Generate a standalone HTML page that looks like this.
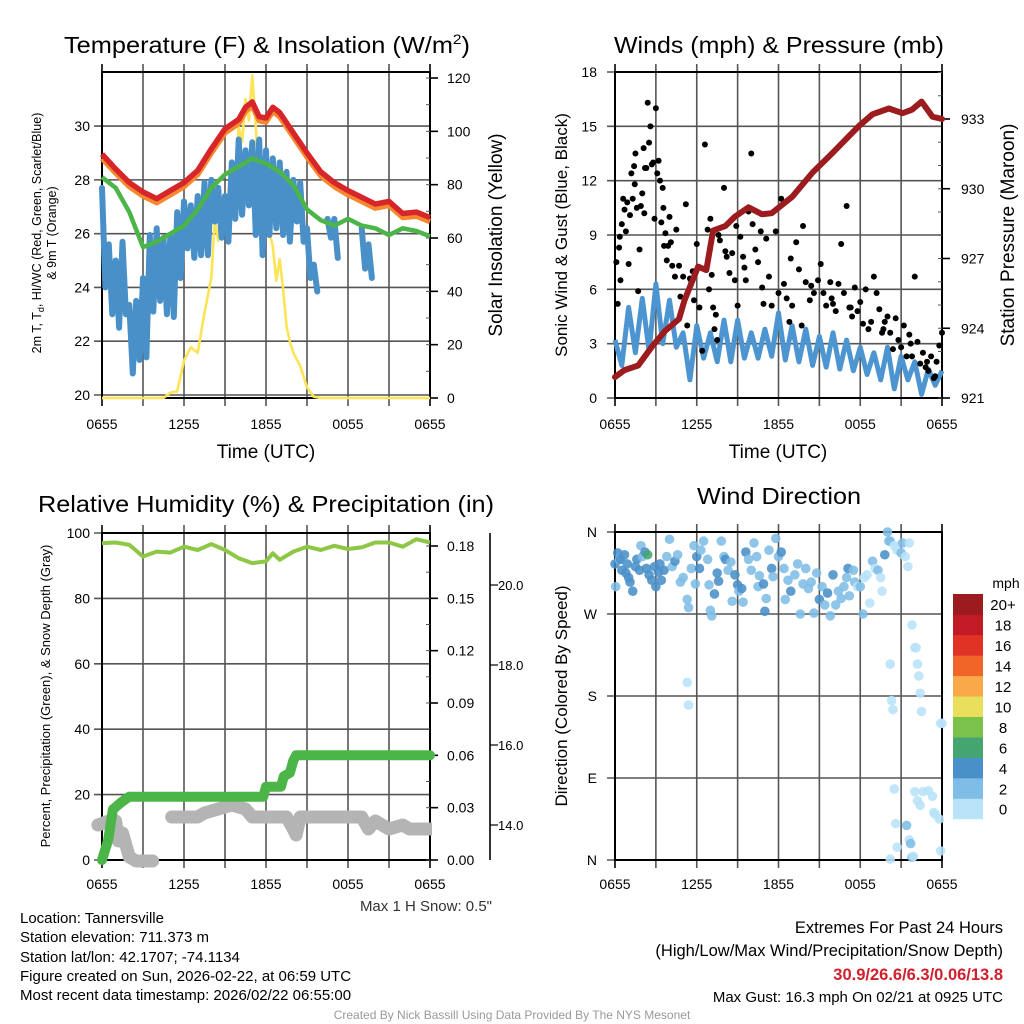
<!DOCTYPE html>
<html><head><meta charset="utf-8"><style>
html,body{margin:0;padding:0;background:#fff;}
svg{display:block;font-family:"Liberation Sans",sans-serif;}
</style></head><body>
<svg id="chart" width="1024" height="1024" viewBox="0 0 1024 1024" xmlns="http://www.w3.org/2000/svg">
<rect width="1024" height="1024" fill="#fff"/>
<text x="267" y="53" font-size="23" text-anchor="middle" textLength="406" lengthAdjust="spacingAndGlyphs">Temperature (F) &amp; Insolation (W/m<tspan font-size="14" dy="-9">2</tspan><tspan dy="9">)</tspan></text>
<text x="779" y="53" font-size="23" text-anchor="middle" textLength="330" lengthAdjust="spacingAndGlyphs">Winds (mph) &amp; Pressure (mb)</text>
<text x="266" y="512" font-size="23" text-anchor="middle" textLength="456" lengthAdjust="spacingAndGlyphs">Relative Humidity (%) &amp; Precipitation (in)</text>
<text x="779" y="504" font-size="23" text-anchor="middle" textLength="164" lengthAdjust="spacingAndGlyphs">Wind Direction</text>
<g id="layer"></g>
<text transform="translate(41,233) rotate(-90)" font-size="12.5" text-anchor="middle">2m T, T<tspan font-size="9" dy="3">d</tspan><tspan dy="-3">, HI/WC (Red, Green, Scarlet/Blue)</tspan></text>
<text transform="translate(56,233) rotate(-90)" font-size="12.5" text-anchor="middle">&amp; 9m T (Orange)</text>
<text transform="translate(502,235) rotate(-90)" font-size="19" text-anchor="middle">Solar Insolation (Yellow)</text>
<text transform="translate(567,235) rotate(-90)" font-size="17" text-anchor="middle">Sonic Wind &amp; Gust (Blue, Black)</text>
<text transform="translate(1014,235) rotate(-90)" font-size="19" text-anchor="middle">Station Pressure (Maroon)</text>
<text transform="translate(50,696) rotate(-90)" font-size="13" text-anchor="middle">Percent, Precipitation (Green), &amp; Snow Depth (Gray)</text>
<text transform="translate(567,696) rotate(-90)" font-size="17" text-anchor="middle">Direction (Colored By Speed)</text>
<text x="266" y="458" font-size="19" text-anchor="middle">Time (UTC)</text>
<text x="778" y="458" font-size="19" text-anchor="middle">Time (UTC)</text>
<text x="492" y="911" font-size="15" fill="#333" text-anchor="end">Max 1 H Snow: 0.5"</text>
<g font-size="15">
<text x="20" y="923">Location: Tannersville</text>
<text x="20" y="942">Station elevation: 711.373 m</text>
<text x="20" y="962">Station lat/lon: 42.1707; -74.1134</text>
<text x="20" y="981">Figure created on Sun, 2026-02-22, at 06:59 UTC</text>
<text x="20" y="1000">Most recent data timestamp: 2026/02/22 06:55:00</text>
</g>
<g text-anchor="end">
<text x="1003" y="933" font-size="16.5">Extremes For Past 24 Hours</text>
<text x="1003" y="956" font-size="16.5">(High/Low/Max Wind/Precipitation/Snow Depth)</text>
<text x="1003" y="980" font-size="16.5" font-weight="bold" fill="#d0202e">30.9/26.6/6.3/0.06/13.8</text>
<text x="1003" y="1002" font-size="15">Max Gust: 16.3 mph On 02/21 at 0925 UTC</text>
</g>
<text x="512" y="1019" font-size="12" fill="#999" text-anchor="middle">Created By Nick Bassill Using Data Provided By The NYS Mesonet</text>
</svg>
<script>
// ---- data ----
const xTickLabels = ["0655","1255","1855","0055","0655"];
const xTickHours = [0,6,12,18,24];
const tempTicks = [20,22,24,26,28,30];
const solarTicks = [0,20,40,60,80,100,120];
const windTicks = [0,3,6,9,12,15,18];
const pressTicks = [921,924,927,930,933];
const rhTicks = [0,20,40,60,80,100];
const precipTicks = [0,0.03,0.06,0.09,0.12,0.15,0.18];
const precipTickLabels = ["0.00","0.03","0.06","0.09","0.12","0.15","0.18"];
const snowTicks = [14,16,18,20];
const snowTickLabels = ["14.0","16.0","18.0","20.0"];
const dirTicks = [0,90,180,270,360];
const dirTickLabels = ["N","E","S","W","N"];
const speedBins = ["0","2","4","6","8","10","12","14","16","18","20+"];
const speedColors = ["#b8e3f8","#80bde6","#4a90c8","#45a570","#7bc24c","#e8e05a","#f9a84a","#f26529","#e03326","#c11b25","#9b1b1f"];

const hiwcHours = [0,1,2,3,4,5,6,7,8,9,10,10.5,11,11.5,12,12.5,13,14,15,16,17,18,19,20,21,22,23,24];
const hiwcVals = [28.96,28.4,27.9,27.55,27.3,27.6,27.9,28.35,29.15,29.9,30.25,30.7,30.9,30.35,30.3,30.7,30.5,29.75,29.0,28.3,27.9,27.6,27.35,27.1,27.2,26.75,26.8,26.6];
const nineMVals = [28.8,28.25,27.75,27.4,27.15,27.45,27.75,28.2,29.0,29.75,30.1,30.55,30.75,30.2,30.15,30.55,30.35,29.6,28.85,28.15,27.75,27.45,27.2,26.95,27.05,26.6,26.65,26.45];
const nine2Hours = [0,1,2,3,4,5,6,7,8,9,10,11,12,13,14,15,16,17,18,19,20,21,22,23,24];
const greenVals = [28.1,27.7,26.8,25.5,25.7,26.0,26.3,26.9,27.7,28.2,28.5,28.8,28.6,28.3,27.8,26.9,26.5,26.3,26.55,26.3,26.2,25.95,26.2,26.1,25.9];
const dewStep = 0.25;
const dewVals = [27.7,24.0,25.6,23.0,25.0,22.5,25.7,23.0,23.35,20.8,23.5,21.3,24.35,21.4,25.95,23.1,26.2,23.5,25.85,23.0,25.95,22.9,26.8,24.35,27.2,25.45,27.05,25.1,27.4,25.2,27.9,25.2,28.0,26.45,27.7,25.85,27.4,25.7,28.65,26.55,29.5,26.7,29.1,27.05,29.4,25.95,29.5,25.2,29.1,25.95,28.8,26.2,28.65,25.95,28.3,25.7,28.0,26.45,27.9,25.7,26.2,24.35,24.85,23.85,null,null,26.55,25.85,26.55,25.1,null,null,null,null,null,null,26.2,24.7,25.6,24.35];
const solarHours = [0,4.5,5,5.5,6,6.5,7,7.5,8,8.25,8.5,8.75,9,9.25,9.5,9.75,10,10.25,10.5,10.75,11,11.25,11.5,11.75,12,12.25,12.5,12.75,13,13.25,13.5,13.75,14,14.5,15,15.5,16,24];
const solarVals = [0,0,2,2.5,14,19,17,32,45,67,59,70,63,77,89,83,102,96,112,104,121,102,79,70,77,62,57,44,52,41,27,21,17,12,4,0.5,0,0];

const pressHours = [0,0.7,1.7,2.7,3.7,4.7,5.1,6.1,6.7,7.2,8.1,8.8,9.8,10.8,11.5,13,14.5,15.9,17.9,18.9,20.1,21.1,21.8,22.5,23.3,24];
const pressVals = [921.9,922.2,922.4,923.2,923.9,924.4,925.2,926.65,926.5,928.2,928.4,928.8,929.2,928.9,928.95,929.65,930.7,931.5,932.7,933.2,933.45,933.25,933.4,933.75,933.1,933.0];
const sonicStep = 0.5;
const sonicVals = [3.2,1.8,5.0,2.5,5.5,2.6,6.3,3.0,5.4,2.8,3.6,1.0,4.0,2.2,3.6,2.0,4.3,2.0,4.3,2.2,3.6,2.2,3.8,2.3,4.7,2.1,4.0,2.0,3.8,1.8,3.4,1.7,3.6,1.6,3.2,1.5,2.8,1.3,2.5,1.0,2.8,0.5,2.3,1.0,2.0,0.2,1.6,0.7,1.5];
const gustHours = [0.1,0.2,0.3,0.4,0.5,0.6,0.7,0.8,0.9,1.0,1.1,1.2,1.3,1.4,1.5,1.6,1.7,1.8,1.9,2.0,2.1,2.2,2.3,2.4,2.5,2.6,2.7,2.8,2.9,3.0,3.1,3.2,3.3,3.4,3.5,3.6,3.7,3.8,3.9,4.0,4.2,4.4,4.5,4.7,4.8,5.0,5.2,5.3,5.5,5.6,5.8,6.0,6.2,6.4,6.6,6.8,7.0,7.1,7.2,7.3,7.4,7.5,7.6,7.7,8.0,8.1,8.2,8.4,8.6,8.8,8.9,9.0,9.2,9.4,9.6,9.8,10.0,10.1,10.3,10.5,10.7,10.9,11.1,11.3,11.5,11.8,12.0,12.2,12.4,12.6,12.8,13.0,13.3,13.5,13.7,13.8,14.0,14.3,14.6,14.9,15.1,15.3,15.5,15.8,16.0,16.2,16.4,16.6,16.8,17.0,17.2,17.4,17.6,17.8,18.0,18.2,18.4,18.6,18.8,19.0,19.2,19.4,19.6,19.8,20.0,20.2,20.4,20.6,20.8,21.0,21.2,21.4,21.6,21.8,22.0,22.2,22.4,22.6,22.8,23.0,23.2,23.4,23.6,23.8,24.0,0.35,1.45,2.15,3.55,4.1,5.7,6.9,9.5,10.8,12.9,14.4,15.9,17.3,19.7,21.7,22.9,23.5];
const gustVals = [7.5,5.2,8.3,6.5,9.6,11.0,10.4,9.2,10.8,7.4,10.1,12.4,11.0,12.8,13.5,10.5,5.9,8.2,10.6,11.3,13.8,12.7,12.7,16.3,14.1,15.0,12.9,13.0,9.9,16.0,12.4,13.1,12.0,9.7,11.6,8.4,9.1,7.6,8.4,10.0,7.3,6.7,9.3,7.3,5.6,6.7,10.7,4.0,6.6,6.4,5.4,8.5,5.0,2.6,14.0,9.3,9.9,6.8,5.0,3.8,4.6,3.2,9.0,8.7,11.6,8.1,7.8,6.9,8.0,6.5,9.5,5.1,8.9,7.8,6.5,10.3,13.5,9.6,8.2,7.5,9.2,5.2,8.8,6.7,5.1,9.2,5.8,11.0,6.3,5.5,4.2,5.1,8.6,7.1,4.0,9.5,6.4,5.4,5.8,6.5,7.4,5.8,5.1,6.4,5.2,4.8,6.3,8.5,5.8,10.6,5.0,4.5,6.1,4.8,5.3,4.1,6.0,3.8,4.2,6.7,5.8,4.9,3.6,4.2,4.5,3.6,2.7,4.4,3.2,2.8,4.0,2.3,3.5,2.3,6.7,3.1,1.9,2.5,1.7,1.5,2.3,1.1,2.0,2.9,3.6,8.9,11.8,10.2,10.5,8.6,7.0,6.0,7.2,6.1,7.7,6.2,5.5,5.0,3.8,3.0,2.0,1.2];

const rhHours = [0,1,2,3,4,5,6,7,8,9,10,11,12,12.5,13,14,15,16,17,18,19,20,21,22,23,24];
const rhVals = [96.9,97.1,96.4,92.8,94.3,94.0,95.8,94.8,96.6,94.8,92.3,90.8,91.3,93.8,91.8,94.3,95.8,94.8,96.1,95.1,95.6,97.1,97.1,95.8,98.1,97.1];
const precipHours = [0,0.45,0.8,1.4,2.0,11.8,12.0,13.1,13.3,13.75,14.0,14.2,24];
const precipVals = [0,0.0115,0.029,0.033,0.0363,0.0363,0.042,0.042,0.048,0.05,0.057,0.06,0.06];
const snowHours = [-0.3,0.5,1.0,1.2,1.5,2.0,2.5,3.7,null,5.1,7.0,7.5,8.5,9.5,10.5,11.0,12.0,13.5,14.0,14.2,14.5,19.0,19.5,20.0,21.0,22.0,22.5,24.0];
const snowVals = [14.0,14.1,14.1,13.6,13.8,13.2,13.1,13.1,null,14.2,14.2,14.3,14.4,14.5,14.4,14.2,14.2,14.2,13.9,13.75,14.2,14.2,13.9,14.1,13.9,14.0,13.9,13.9];

const dirHours = [0.0,0.05,0.2,0.3,0.5,0.7,0.9,1.0,1.1,1.3,1.6,1.9,2.0,2.2,2.3,2.5,2.7,2.9,3.0,3.2,3.4,3.6,3.8,4.0,4.2,4.4,4.6,4.8,5.0,5.3,5.4,5.6,5.8,5.9,6.0,6.2,6.3,6.5,6.8,6.9,7.0,7.1,7.3,7.5,7.6,7.8,8.0,8.1,8.3,8.5,8.6,8.8,9.0,9.1,9.3,9.4,9.6,9.8,10.0,10.2,10.4,10.5,10.6,10.9,11.0,11.1,11.3,11.5,11.6,11.8,12.0,12.2,12.4,12.5,12.7,12.9,13.2,13.4,13.6,13.8,14.0,14.2,14.4,14.6,14.8,15.0,15.2,15.4,15.6,15.8,16.0,16.2,16.4,16.6,16.8,17.0,17.1,17.2,17.5,17.6,17.8,18.0,18.2,18.3,18.5,18.7,18.9,19.1,19.3,19.5,19.6,19.8,20.0,20.1,20.2,20.5,20.7,21.0,21.1,21.3,21.5,21.6,5.3,5.4,20.2,20.3,20.4,21.8,22.0,22.1,22.2,22.3,22.4,22.5,23.9,24.0,20.5,20.6,20.7,20.2,21.4,21.6,21.7,21.8,21.9,22.0,22.2,22.4,22.6,23.0,23.3,23.4,23.5,23.8,23.9,0.4,0.8,1.5,1.8,3.3,2.4];
const dirVals = [325,300,337,330,318,335,325,310,305,295,330,345,333,338,320,313,307,322,300,316,307,318,333,352,322,328,335,305,310,286,277,320,345,303,333,320,340,350,330,302,274,268,292,315,306,350,333,330,318,327,284,313,302,295,298,283,338,330,318,348,333,300,312,303,273,287,340,320,311,353,333,338,320,286,307,295,313,325,270,303,320,298,305,271,315,286,300,280,293,268,313,280,295,287,300,310,320,290,318,305,300,300,270,310,313,282,328,320,318,310,295,335,360,350,350,345,340,337,348,333,322,348,195,170,215,175,165,258,233,233,215,202,183,163,150,150,78,40,14,1,38,22,18,3,4,75,65,60,75,76,70,52,50,45,10,330,315,322,318,325,335];
const dirSpeeds = [4,3,4,3,4,4,4,4,4,4,4,3,3,5,4,4,4,4,4,4,4,4,3,3,3,4,3,3,3,3,3,3,3,3,4,4,3,3,3,3,3,3,4,4,4,3,3,4,3,3,3,4,4,3,4,3,4,3,3,3,3,3,3,4,4,3,3,4,3,3,3,4,3,3,3,4,3,3,3,3,3,3,3,3,3,4,3,3,4,3,4,3,3,3,3,3,4,3,3,3,1,3,3,1,1,1,3,1,3,1,1,4,3,3,3,1,1,3,3,1,1,1,1,1,1,1,1,1,1,1,1,1,1,1,1,1,1,1,1,1,2,1,2,2,1,1,1,1,1,1,1,1,1,1,1,4,4,4,4,4,6];

// ---- drawing ----
const NS="http://www.w3.org/2000/svg";
const layer=document.getElementById('layer');
function el(tag,attrs,parent){const e=document.createElementNS(NS,tag);for(const k in attrs)e.setAttribute(k,attrs[k]);(parent||layer).appendChild(e);return e;}
function lin(d0,d1,r0,r1){return v=>r0+(v-d0)/(d1-d0)*(r1-r0);}
function pathFrom(xs,ys,fx,fy){let d="",pen=false;for(let i=0;i<xs.length;i++){if(xs[i]==null||ys[i]==null){pen=false;continue;}d+=(pen?"L":"M")+fx(xs[i]).toFixed(1)+","+fy(ys[i]).toFixed(1);pen=true;}return d;}

const P1={x0:102,x1:430,y0:72,y1:398}, P2={x0:615,x1:942,y0:72,y1:398}, P3={x0:102,x1:430,y0:533,y1:860}, P4={x0:615,x1:942,y0:532,y1:860};

function frame(P,name,hTicksY,labelY){
  const g=el('g',{});
  
  
  const fx=lin(0,24,P.x0,P.x1);
  for(let h=3;h<24;h+=3){const x=fx(h);el('line',{x1:x,x2:x,y1:P.y0-8,y2:P.y1+8,stroke:'#555','stroke-width':1.6},g);}
  hTicksY.forEach(y=>{el('line',{x1:P.x0-8,x2:P.x1,y1:y,y2:y,stroke:'#555','stroke-width':1.6},g);});
  el('line',{x1:P.x0,x2:P.x0,y1:P.y0-8,y2:P.y1+8,stroke:'#000','stroke-width':1.6},g);
  el('line',{x1:P.x1,x2:P.x1,y1:P.y0-8,y2:P.y1+8,stroke:'#000','stroke-width':1.6},g);
  el('rect',{x:P.x0,y:P.y0,width:P.x1-P.x0,height:P.y1-P.y0,fill:'none',stroke:'#000','stroke-width':2},g);
  xTickHours.forEach((h,i)=>{const t=el('text',{x:fx(h),y:labelY,'font-size':14,'text-anchor':'middle'},g);t.textContent=xTickLabels[i];
    
    });
  return fx;
}
function yLabels(vals,labels,fy,x,anchor,name,size){
  vals.forEach((v,i)=>{const t=el('text',{x:x,y:fy(v)+5,'font-size':size||14,'text-anchor':anchor});t.textContent=labels?labels[i]:String(v);
    
    });
}
function rightTicks(P,fy,major,minorStep,lo,hi){
  for(let v=lo;v<=hi+1e-9;v+=minorStep){el('line',{x1:P.x1-4,x2:P.x1,y1:fy(v),y2:fy(v),stroke:'#555','stroke-width':1});}
  major.forEach(v=>el('line',{x1:P.x1,x2:P.x1+8,y1:fy(v),y2:fy(v),stroke:'#000','stroke-width':1.6}));
}

// Panel 1
const t1=lin(20,32,395,72.3), s1=lin(0,120,398,78);
const fx1=frame(P1,'temp',tempTicks.map(t1),429);
yLabels(tempTicks,null,t1,90,'end','temp-tick-label');
rightTicks(P1,s1,solarTicks,10,0,120);
yLabels(solarTicks,null,s1,447,'start','solar-tick-label');
let e;
e=el('path',{d:pathFrom(solarHours,solarVals,fx1,s1),fill:'none',stroke:'#fde456','stroke-width':2.6,'stroke-linejoin':'round'});


const dewHours=dewVals.map((v,i)=>i*dewStep);
e=el('path',{d:pathFrom(dewHours,dewVals,fx1,t1),fill:'none',stroke:'#4a90c8','stroke-width':6,'stroke-linejoin':'round','stroke-linecap':'round'});


e=el('path',{d:pathFrom(nine2Hours,greenVals,fx1,t1),fill:'none',stroke:'#4bb548','stroke-width':4.5,'stroke-linejoin':'round'});


e=el('path',{d:pathFrom(hiwcHours,nineMVals,fx1,t1),fill:'none',stroke:'#f7882f','stroke-width':5.5,'stroke-linejoin':'round'});


e=el('path',{d:pathFrom(hiwcHours,hiwcVals,fx1,t1),fill:'none',stroke:'#d7262a','stroke-width':5.5,'stroke-linejoin':'round'});



// Panel 2
const w2=lin(0,18,398,72), p2=lin(921,933,398,119);
const fx2=frame(P2,'wind',windTicks.map(w2),429);
yLabels(windTicks,null,w2,597,'end','wind-tick-label');
rightTicks(P2,p2,pressTicks,1,921,935);
yLabels(pressTicks,null,p2,961,'start','pressure-tick-label');
const sonicHours=sonicVals.map((v,i)=>i*sonicStep);
e=el('path',{d:pathFrom(sonicHours,sonicVals,fx2,w2),fill:'none',stroke:'#4d95d1','stroke-width':5,'stroke-linejoin':'round'});


gustHours.forEach((h,i)=>{const c=el('circle',{cx:fx2(h),cy:w2(gustVals[i]),r:3,fill:'#000'});
  
  });
e=el('path',{d:pathFrom(pressHours,pressVals,fx2,p2),fill:'none',stroke:'#9b1b1f','stroke-width':6,'stroke-linejoin':'round','stroke-linecap':'round'});



// Panel 3
const r3=lin(0,100,860,533), pr3=lin(0,0.18,860,546), sn3=lin(14,20,825,585);
const fx3=frame(P3,'rh',rhTicks.map(r3),889);
yLabels(rhTicks,null,r3,90,'end','rh-tick-label');
rightTicks(P3,pr3,precipTicks,0.015,0,0.18);
yLabels(precipTicks,precipTickLabels,pr3,447,'start','precip-tick-label');
e=el('line',{x1:490,x2:490,y1:533,y2:860,stroke:'#000','stroke-width':1.6});


snowTicks.forEach(v=>el('line',{x1:490,x2:498,y1:sn3(v),y2:sn3(v),stroke:'#000','stroke-width':1.2}));
yLabels(snowTicks,snowTickLabels,sn3,498,'start','snow-tick-label',13);
e=el('path',{d:pathFrom(rhHours,rhVals,fx3,r3),fill:'none',stroke:'#8dc745','stroke-width':4,'stroke-linejoin':'round'});


const clip=el('clipPath',{id:'c3'});el('rect',{x:P3.x0-12,y:P3.y0,width:P3.x1-P3.x0+14,height:P3.y1-P3.y0+12},clip);
e=el('path',{d:pathFrom(snowHours,snowVals,fx3,sn3),fill:'none',stroke:'#b4b4b4','stroke-width':13,'stroke-linejoin':'round','stroke-linecap':'round','clip-path':'url(#c3)'});


e=el('path',{d:pathFrom(precipHours,precipVals,fx3,pr3),fill:'none',stroke:'#4bb548','stroke-width':10,'stroke-linejoin':'round','stroke-linecap':'round'});



// Panel 4
const d4=lin(0,360,860,532);
const fx4=frame(P4,'direction',dirTicks.map(d4),889);
yLabels(dirTicks,dirTickLabels,d4,597,'end','direction-tick-label');
dirHours.forEach((h,i)=>{const idx=Math.min(10,Math.floor(dirSpeeds[i]/2));const c=el('circle',{cx:fx4(h),cy:d4(dirVals[i]),r:4.8,fill:speedColors[idx],'fill-opacity':0.88});
  
  });
// colorbar
const cb=el('g',{});


const cbTop=594,cbH=20.45;
speedBins.forEach((lab,i)=>{const y=cbTop+(10-i)*cbH;el('rect',{x:953,y:y,width:30,height:cbH+0.3,fill:speedColors[i]},cb);
  const t=el('text',{x:1003,y:y+cbH/2+6,'font-size':15,'text-anchor':'middle'},cb);t.textContent=lab;});
const mt=el('text',{x:1006,y:588,'font-size':14,'text-anchor':'middle'},cb);mt.textContent='mph';
</script>
</body></html>
